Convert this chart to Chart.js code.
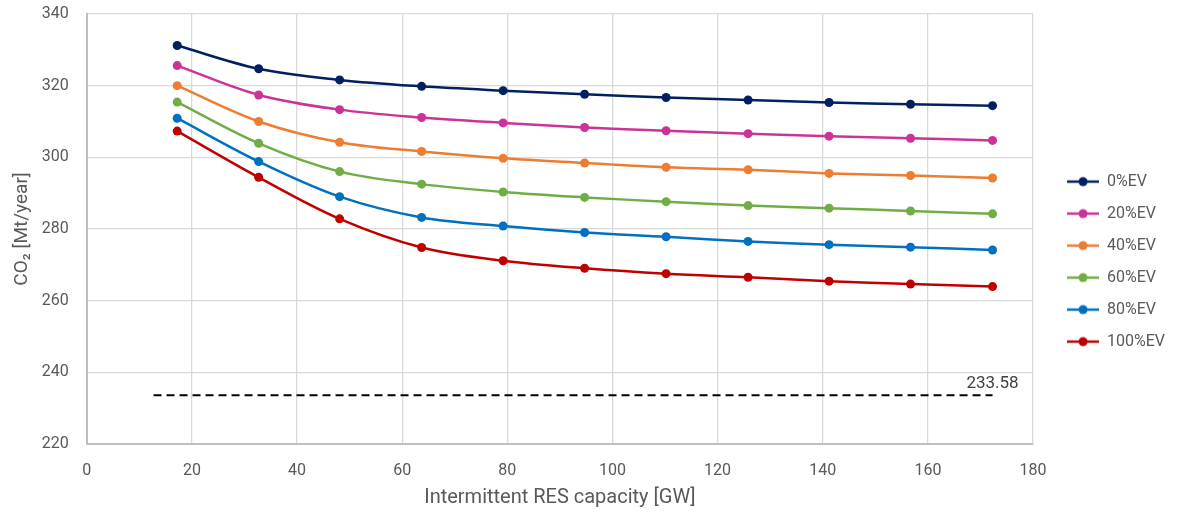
<!DOCTYPE html>
<html>
<head>
<meta charset="utf-8">
<script src="https://cdn.jsdelivr.net/npm/chart.js@4/dist/chart.umd.min.js"></script>
<style>
  html, body { margin: 0; padding: 0; background: #fff; }
  #wrap { width: 1179px; height: 514px; }
</style>
</head>
<body>
<div id="wrap"><canvas id="co2Chart"></canvas></div>
<script>
  // ---- Data
  const capacityGW = [17.2, 32.7, 48.1, 63.7, 79.2, 94.7, 110.2, 125.8, 141.2, 156.7, 172.3];
  const ev0   = [331.2, 324.7, 321.6, 319.8, 318.6, 317.6, 316.7, 316.0, 315.3, 314.8, 314.4];
  const ev20  = [325.6, 317.4, 313.3, 311.1, 309.6, 308.3, 307.4, 306.6, 305.9, 305.3, 304.7];
  const ev40  = [320.0, 310.0, 304.2, 301.6, 299.7, 298.4, 297.2, 296.5, 295.5, 294.9, 294.2];
  const ev60  = [315.4, 303.9, 296.0, 292.5, 290.3, 288.8, 287.6, 286.5, 285.8, 285.0, 284.2];
  const ev80  = [310.9, 298.8, 289.0, 283.2, 280.8, 279.0, 277.8, 276.5, 275.6, 274.9, 274.1];
  const ev100 = [307.3, 294.4, 282.8, 274.8, 271.1, 269.0, 267.5, 266.5, 265.4, 264.6, 263.9];

  const seriesNames = ["0%EV", "20%EV", "40%EV", "60%EV", "80%EV", "100%EV"];
  const seriesColors = ["#002060", "#CC3399", "#ED7D31", "#70AD47", "#0070C0", "#C00000"];

  // dashed reference line
  const limitX = [12.7, 172.3];
  const limitValue = 233.58;

  const FONT = "Roboto, 'Liberation Sans', sans-serif";
  const TXT = "#595959";

  function toPoints(xs, ys) {
    return xs.map(function (x, i) { return { x: x, y: ys[i] }; });
  }

  // legend symbol: line with a dot, drawn in the right part of a wider box
  // (the empty left part gives the gap between plot and legend)
  function legendSymbol(color) {
    const c = document.createElement("canvas");
    c.width = 50; c.height = 12;
    const g = c.getContext("2d");
    g.strokeStyle = color; g.lineWidth = 2.5;
    g.beginPath(); g.moveTo(18, 6); g.lineTo(50, 6); g.stroke();
    g.fillStyle = color;
    g.beginPath(); g.arc(34, 6, 4.5, 0, Math.PI * 2); g.fill();
    return c;
  }

  const allSeries = [ev0, ev20, ev40, ev60, ev80, ev100];
  const datasets = allSeries.map(function (ys, i) {
    return {
      label: seriesNames[i],
      data: toPoints(capacityGW, ys),
      borderColor: seriesColors[i],
      backgroundColor: seriesColors[i],
      borderWidth: 2.5,
      pointRadius: 4.5,
      pointHoverRadius: 4.5,
      pointBorderWidth: 0,
      tension: 0.35,
      legendSymbol: legendSymbol(seriesColors[i])
    };
  });

  datasets.push({
    label: "limit",
    data: limitX.map(function (x) { return { x: x, y: limitValue }; }),
    borderColor: "#000000",
    borderWidth: 2,
    borderDash: [8, 5],
    pointRadius: 0,
    tension: 0
  });

  // draws the "233.58" label above the end of the dashed line
  const limitLabel = {
    id: "limitLabel",
    afterDatasetsDraw: function (chart) {
      const xs = chart.scales.x, ys = chart.scales.y;
      const ctx = chart.ctx;
      ctx.save();
      ctx.font = "17px " + FONT;
      ctx.fillStyle = "#404040";
      ctx.textAlign = "center";
      ctx.textBaseline = "alphabetic";
      ctx.fillText(limitValue.toFixed(2), xs.getPixelForValue(limitX[1]), ys.getPixelForValue(limitValue) - 7.5);
      ctx.restore();
    }
  };

  new Chart(document.getElementById("co2Chart"), {
    type: "line",
    data: { datasets: datasets },
    plugins: [limitLabel],
    options: {
      responsive: true,
      maintainAspectRatio: false,
      animation: false,
      events: [],
      layout: { padding: { left: 6, right: 4, top: 0, bottom: 4 } },
      plugins: {
        tooltip: { enabled: false },
        legend: {
          position: "right",
          title: { display: true, text: "", font: { size: 11 }, padding: 0 },
          labels: {
            font: { family: FONT, size: 16 },
            color: TXT,
            usePointStyle: true,
            pointStyleWidth: 50,
            padding: 16,
            generateLabels: function (chart) {
              return chart.data.datasets.filter(function (ds) {
                return ds.label !== "limit";
              }).map(function (ds, i) {
                return {
                  text: ds.label,
                  pointStyle: ds.legendSymbol,
                  fillStyle: ds.borderColor,
                  strokeStyle: ds.borderColor,
                  lineWidth: 0,
                  fontColor: TXT,
                  datasetIndex: i
                };
              });
            }
          }
        }
      },
      scales: {
        x: {
          type: "linear",
          min: 0, max: 180,
          ticks: { stepSize: 20, color: TXT, font: { family: FONT, size: 16 }, padding: 5 },
          grid: { color: "#d9d9d9", lineWidth: 1.3, drawTicks: true, tickLength: 13, tickColor: "rgba(0,0,0,0)" },
          border: { color: "#bfbfbf", width: 2 },
          title: { display: true, text: "Intermittent RES capacity [GW]", color: TXT, font: { family: FONT, size: 20 }, padding: { top: 0, bottom: 0 } }
        },
        y: {
          min: 220, max: 340,
          ticks: { stepSize: 20, color: TXT, font: { family: FONT, size: 16, lineHeight: 1 }, padding: 6 },
          grid: { color: "#d9d9d9", lineWidth: 1.3, drawTicks: true, tickLength: 12, tickColor: "rgba(0,0,0,0)" },
          border: { color: "#bfbfbf", width: 2 },
          title: { display: true, text: "CO\u2082 [Mt/year]", color: TXT, font: { family: FONT, size: 19 }, padding: { top: 5, bottom: 2 } }
        }
      }
    }
  });
</script>
</body>
</html>
